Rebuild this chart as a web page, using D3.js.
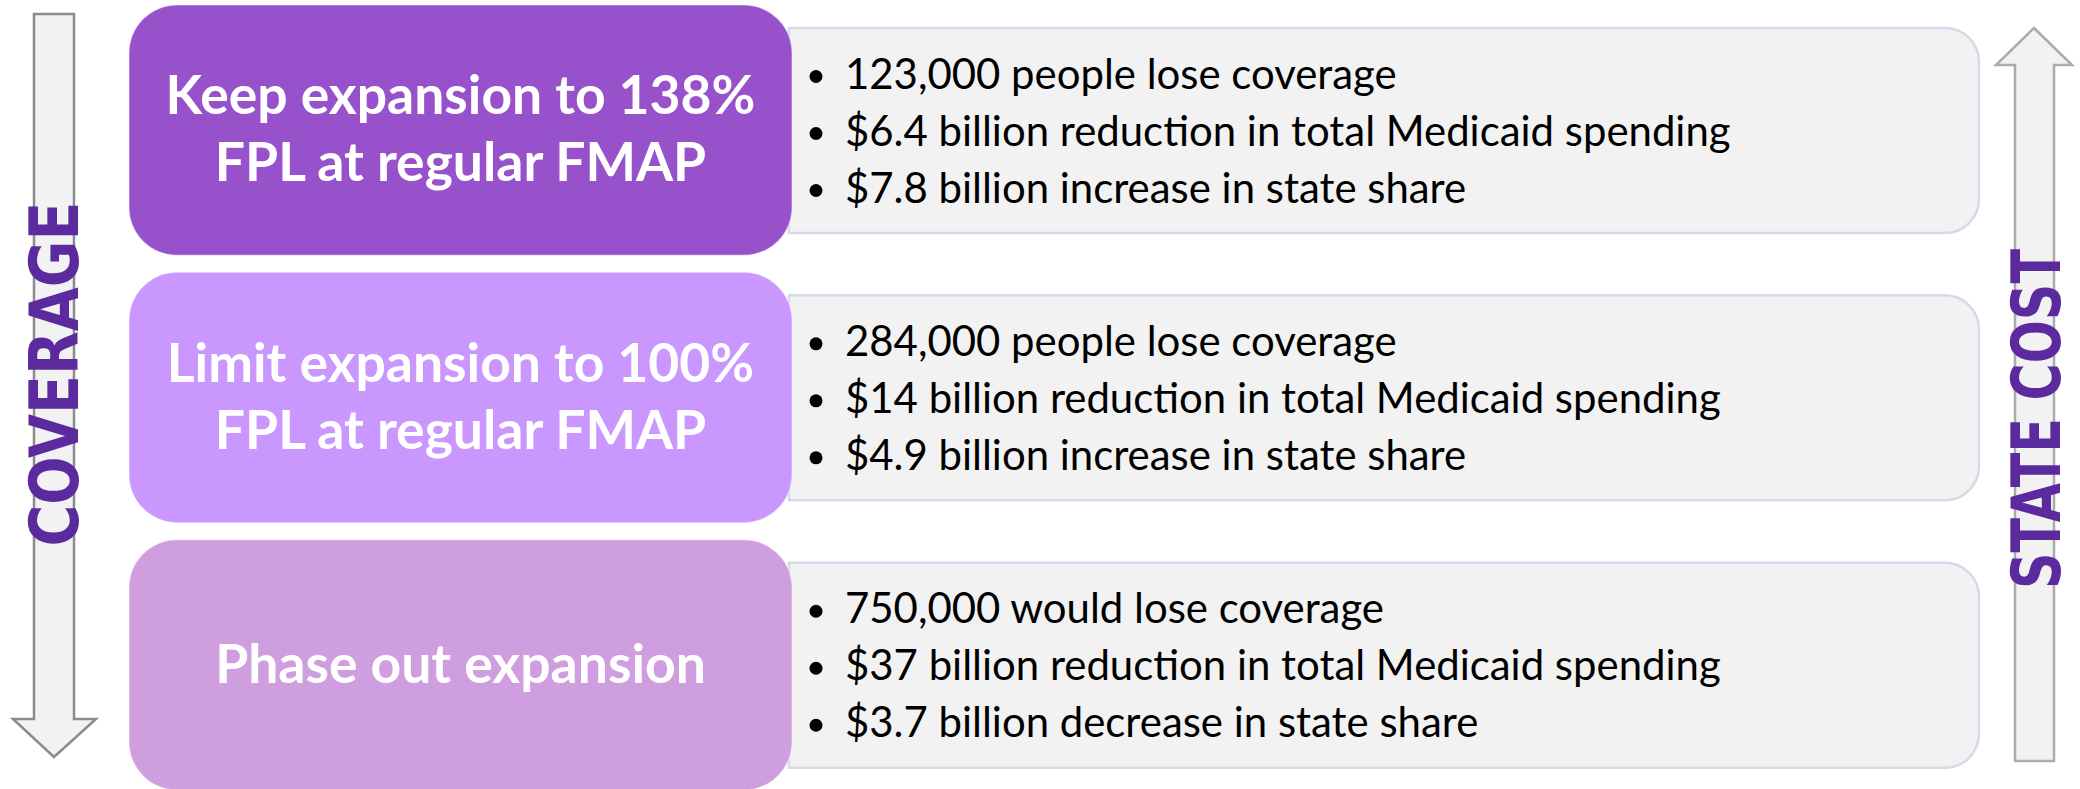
<!DOCTYPE html>
<html>
<head>
<meta charset="utf-8">
<script src="https://cdn.jsdelivr.net/npm/d3@7"></script>
<style>
  body { margin: 0; background: #fff; }
  svg { display: block; }
</style>
</head>
<body>
<svg id="chart" width="2080" height="789"></svg>
<script>
// Option titles (one entry per line)
const optionTitles = [
  ["Keep expansion to 138%", "FPL at regular FMAP"],
  ["Limit expansion to 100%", "FPL at regular FMAP"],
  ["Phase out expansion"]
];
const coverageBullets = [
  "123,000 people lose coverage",
  "284,000 people lose coverage",
  "750,000 would lose coverage"
];
const spendingBullets = [
  "$6.4 billion reduction in total Medicaid spending",
  "$14 billion reduction in total Medicaid spending",
  "$37 billion reduction in total Medicaid spending"
];
const stateShareBullets = [
  "$7.8 billion increase in state share",
  "$4.9 billion increase in state share",
  "$3.7 billion decrease in state share"
];
const sideLabels = ["COVERAGE", "STATE COST"];

// styles
const boxColors = ["#9752cb", "#ca97fe", "#cf9edf"];
const labelColor = "#5b2a9e";
const bodyFont = "Lato, Carlito, 'Open Sans', sans-serif";
const sideFont = "'Liberation Sans Narrow', 'DejaVu Sans Condensed', 'Liberation Sans', sans-serif";

const svg = d3.select("#chart");

// rows
const y = d3.scaleBand()
  .domain(d3.range(optionTitles.length))
  .range([5, 790])
  .paddingInner(0.064)
  .paddingOuter(0);

// columns
const x = d3.scaleLinear().domain([0, 1]).range([129, 792]);
const detailX0 = 789, detailX1 = 1979;

// fit font sizes to the original widths (Calibri-like)
function fitSize(str, weight, base, target) {
  const t = svg.append("text")
    .attr("font-family", bodyFont)
    .attr("font-weight", weight)
    .attr("font-size", base)
    .text(str);
  const w = t.node().getComputedTextLength();
  t.remove();
  return base * target / w;
}
const bulletSize = fitSize(spendingBullets[0], 400, 45, 886);
const titleSize = fitSize(optionTitles[0][0], 700, 56, 590);

// ---------- detail boxes (rounded right side) ----------
function rightRounded(x0, y0, x1, y1, r) {
  return `M${x0},${y0} H${x1 - r} A${r},${r} 0 0 1 ${x1},${y0 + r} V${y1 - r} A${r},${r} 0 0 1 ${x1 - r},${y1} H${x0} Z`;
}

const rows = svg.selectAll("g.row")
  .data(optionTitles)
  .enter()
  .append("g")
  .attr("class", "row");

rows.append("path")
  .attr("d", (d, i) => rightRounded(detailX0, y(i) + 23, detailX1, y(i) + 228, 34))
  .attr("fill", "#f2f2f2")
  .attr("stroke", "#d5d9ea")
  .attr("stroke-width", 2.5);

// bullets
const bulletLines = (i) => [coverageBullets[i], spendingBullets[i], stateShareBullets[i]];
rows.each(function (d, i) {
  const g = d3.select(this);
  const mid = y(i) + 23 + 102.5;
  const lineStep = 57;
  bulletLines(i).forEach((txt, k) => {
    const by = mid + (k - 1) * lineStep + 15;
    g.append("circle")
      .attr("cx", 816)
      .attr("cy", by - 12)
      .attr("r", 6.5)
      .attr("fill", "#000");
    g.append("text")
      .attr("x", 845)
      .attr("y", by)
      .attr("font-family", bodyFont)
      .attr("font-size", bulletSize)
      .attr("fill", "#000")
      .text(txt);
  });
});

// ---------- option boxes ----------
rows.append("rect")
  .attr("x", x(0))
  .attr("y", (d, i) => y(i))
  .attr("width", x(1) - x(0))
  .attr("height", y.bandwidth())
  .attr("rx", 48)
  .attr("ry", 48)
  .attr("fill", (d, i) => boxColors[i])
  .attr("stroke", "#ffffff")
  .attr("stroke-opacity", 0.35)
  .attr("stroke-width", 1.5);

rows.each(function (d, i) {
  const g = d3.select(this);
  const cx = (x(0) + x(1)) / 2;
  const cy = y(i) + y.bandwidth() / 2;
  const lh = 67;
  d.forEach((line, k) => {
    g.append("text")
      .attr("x", cx)
      .attr("y", cy + (k - (d.length - 1) / 2) * lh + titleSize * 0.33)
      .attr("text-anchor", "middle")
      .attr("font-family", bodyFont)
      .attr("font-weight", 700)
      .attr("font-size", titleSize)
      .attr("fill", "#ffffff")
      .text(line);
  });
});

// ---------- side arrows ----------
svg.append("path")
  .attr("d", "M34,14 H74 V719 H96 L54,757 L13,719 H34 Z")
  .attr("fill", "#f2f2f2")
  .attr("stroke", "#8c8c8c")
  .attr("stroke-width", 2.5)
  .attr("stroke-linejoin", "miter");

svg.append("path")
  .attr("d", "M2034,28 L2072,65 H2054 V761 H2015 V65 H1996 Z")
  .attr("fill", "#f2f2f2")
  .attr("stroke", "#ababab")
  .attr("stroke-width", 2.5)
  .attr("stroke-linejoin", "miter");

const sideSpecs = [
  { x: 78, y: 374, len: 345 },
  { x: 2060, y: 419, len: 340 }
];
svg.selectAll("text.side")
  .data(sideLabels)
  .enter()
  .append("text")
  .attr("class", "side")
  .attr("transform", (d, i) => `translate(${sideSpecs[i].x},${sideSpecs[i].y}) rotate(-90)`)
  .attr("text-anchor", "middle")
  .attr("font-family", sideFont)
  .attr("font-weight", 700)
  .attr("font-size", 68)
  .attr("fill", labelColor)
  .attr("textLength", (d, i) => sideSpecs[i].len)
  .attr("lengthAdjust", "spacingAndGlyphs")
  .text(d => d);
</script>
</body>
</html>
